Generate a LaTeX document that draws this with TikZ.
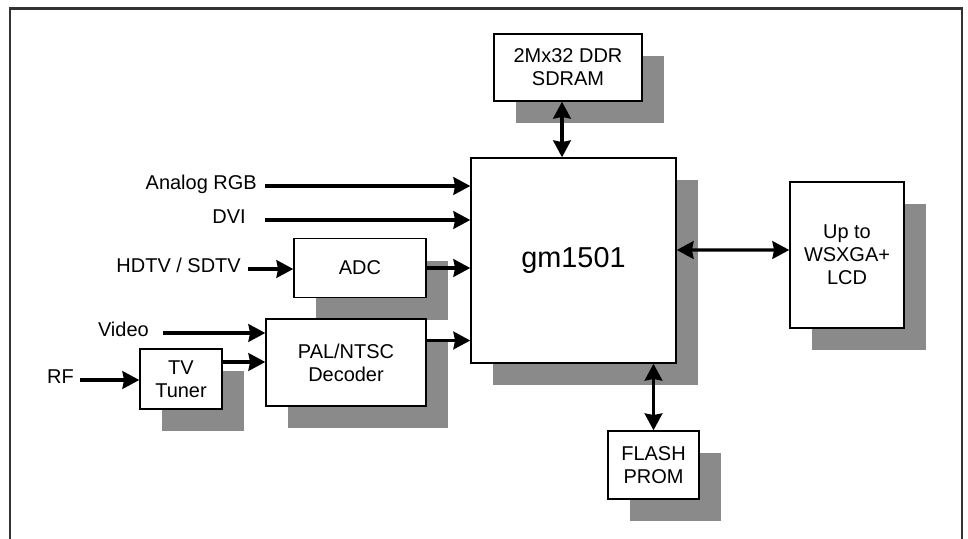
\documentclass[tikz,border=0pt]{standalone}
\usepackage{fontspec}
\setmainfont{Liberation Sans}
\usetikzlibrary{arrows.meta,shadows}
\definecolor{shadowgray}{gray}{0.54}
\definecolor{framegray}{gray}{0.2}
\begin{document}
\begin{tikzpicture}[x=0.025cm,y=-0.025cm,
  >={Stealth[length=0.42cm,width=0.44cm,inset=0.04cm]},
  block/.style={draw,fill=white,line width=1pt,inner sep=0pt,align=center,
    font=\fontsize{14.2}{16.5}\selectfont,
    general shadow={fill=shadowgray,shadow xshift=0.56cm,shadow yshift=-0.56cm}},
  sig/.style={inner sep=0pt,anchor=mid east,font=\fontsize{14.2}{16.5}\selectfont},
  link/.style={line width=2.4pt}]
\useasboundingbox (0,0) rectangle (968,539);
\draw[framegray,line width=1.7pt] (10,539) -- (10,8.5) -- (962,8.5) -- (962,539);

\node[block,minimum width=3.7cm,minimum height=1.675cm] (sdram) at (568,67.5) {2Mx32 DDR\\SDRAM};
\node[block,minimum width=5.125cm,minimum height=5.125cm,font=\fontsize{20.5}{24}\selectfont] (gm) at (573.5,260.5) {gm1501};
\node[block,minimum width=2.85cm,minimum height=3.65cm] (lcd) at (847,255) {Up to\\WSXGA+\\LCD};
\node[block,minimum width=2.275cm,minimum height=1.7cm] (flash) at (653.5,465) {FLASH\\PROM};
\node[block,minimum width=3.3cm,minimum height=1.475cm] (adc) at (360,268) {ADC};
\node[block,minimum width=4cm,minimum height=2.175cm] (pal) at (346,362.5) {PAL/NTSC\\Decoder};
\node[block,minimum width=2.05cm,minimum height=1.5cm] (tv) at (181,379) {TV\\Tuner};

\node[sig] (argb) at (257,186) {Analog RGB};
\node[sig] (dvi) at (246,220) {DVI};
\node[sig] (hdtv) at (241,269) {HDTV / SDTV};
\node[sig] (video) at (149,333) {Video};
\node[sig] (rf) at (74,380) {RF};

\draw[link,->] ([xshift=0.2cm]argb.mid east) -- (argb.mid east -| gm.west);
\draw[link,->] ([xshift=0.475cm]dvi.mid east) -- (dvi.mid east -| gm.west);
\draw[link,->] ([xshift=0.175cm]hdtv.mid east) -- (hdtv.mid east -| adc.west);
\draw[link,->] (adc.east) -- (adc.east -| gm.west);
\draw[link,->] ([xshift=0.35cm]video.mid east) -- (video.mid east -| pal.west);
\draw[link,->] ([xshift=0.15cm]rf.mid east) -- (rf.mid east -| tv.west);
\draw[link,->] ([yshift=0.425cm]tv.east) -- ([yshift=0.425cm]tv.east -| pal.west);
\draw[link,->] ([yshift=0.55cm]pal.east) -- ([yshift=0.55cm]pal.east -| gm.west);
\draw[link,<->] ([xshift=-0.15cm]sdram.south) -- ([xshift=-0.15cm]sdram.south |- gm.north);
\draw[link,<->] (gm.east |- lcd.west) ++(0,-5) -- ([yshift=0.125cm]lcd.west);
\draw[link,<->] (flash.north |- gm.south) -- (flash.north);
\end{tikzpicture}
\end{document}
